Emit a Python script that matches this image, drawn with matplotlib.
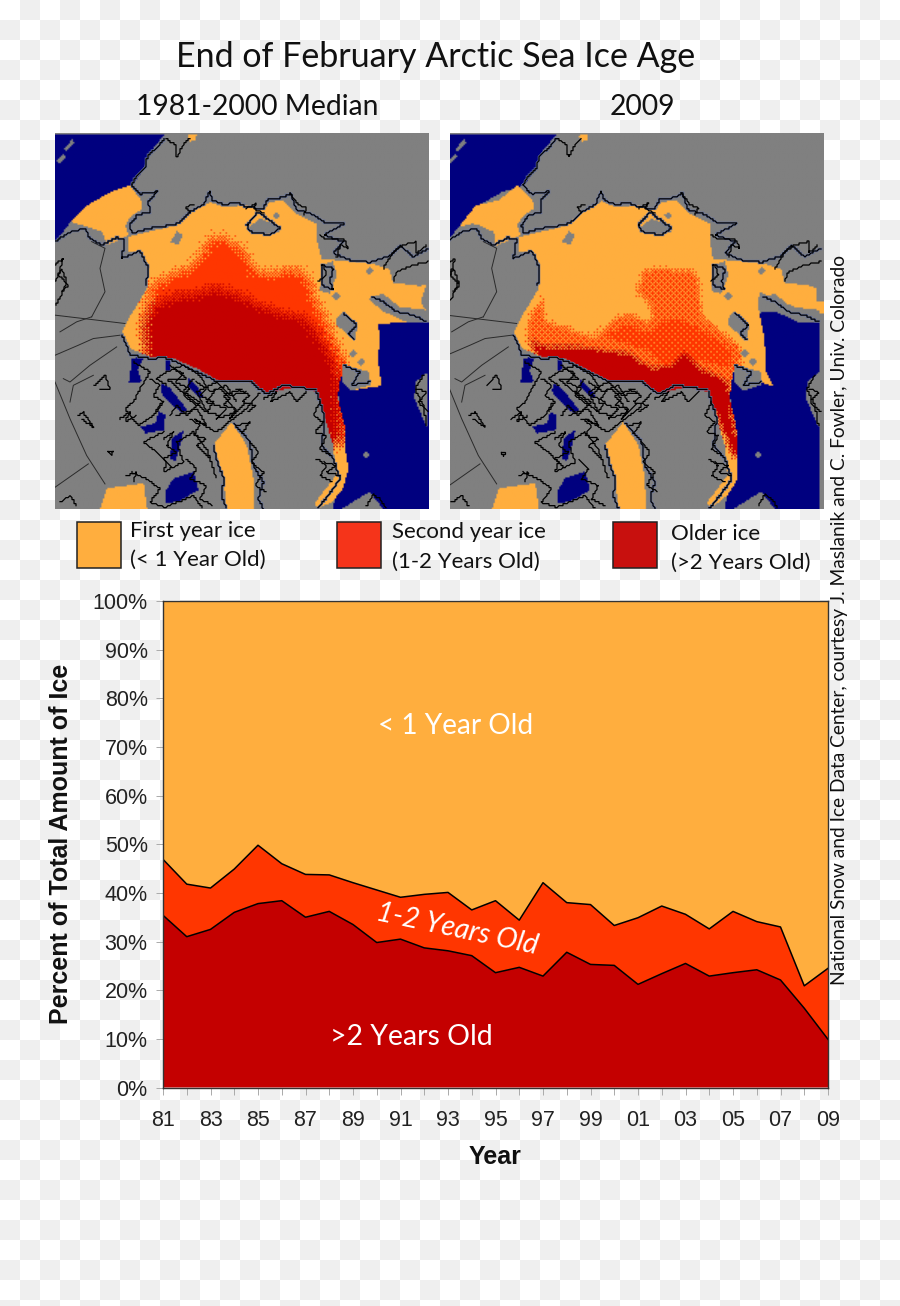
import numpy as np
import matplotlib
matplotlib.use('Agg')
import matplotlib.pyplot as plt
from matplotlib.patches import Rectangle
from matplotlib.path import Path

plt.rcParams['font.family'] = ['Lato', 'DejaVu Sans']

# Dados do grafico
years = list(range(1981, 2010))
tick_labels = ['81', '83', '85', '87', '89', '91', '93', '95', '97', '99', '01', '03', '05', '07', '09']
older = [35.4, 31.0, 32.5, 36.0, 37.8, 38.4, 35.0, 36.2, 33.5, 29.8, 30.5, 28.7, 28.1, 27.1, 23.6,
         24.7, 22.9, 27.8, 25.3, 25.1, 21.2, 23.4, 25.5, 22.9, 23.6, 24.2, 22.1, 16.3, 9.9]
upper = [46.9, 41.8, 41.0, 44.9, 49.8, 46.0, 43.8, 43.7, 42.1, 40.6, 39.1, 39.7, 40.1, 36.5, 38.4,
         34.4, 42.1, 38.0, 37.6, 33.3, 34.9, 37.3, 35.6, 32.6, 36.2, 34.1, 33.0, 20.9, 24.5]

ORANGE = '#ffae3e'
RED = '#ff3600'
DARK = '#c40000'
NAVY = '#00007f'
GRAY = '#808080'

# Contornos dos mapas (coordenadas do mapa)
navy_top = [(15, 25), (345, 25), (300, 80), (280, 130), (245, 180), (180, 200), (110, 240), (60, 290), (15, 350)]
navy_right = [(960, 560), (1137, 560), (1137, 1150), (850, 1150), (885, 960), (865, 800), (880, 700)]
navy_inlets = [
    [(245, 700), (280, 695), (262, 735), (275, 770), (235, 775)],
    [(345, 700), (362, 702), (358, 735), (345, 735)],
    [(335, 775), (360, 790), (412, 855), (395, 865), (350, 825), (330, 800)],
    [(415, 760), (445, 790), (462, 815), (450, 820), (415, 785)],
    [(270, 905), (315, 895), (325, 860), (345, 870), (340, 915), (285, 925)],
    [(365, 940), (400, 915), (395, 945), (375, 1010), (360, 1000)],
    [(345, 1100), (370, 1060), (430, 1040), (445, 1095), (385, 1130), (345, 1135)],
]
ice_1 = [(232, 335), (300, 318), (370, 302), (420, 262), (480, 230), (520, 245), (590, 240), (640, 255), (660, 230),
         (700, 225), (740, 265), (800, 295), (800, 340), (815, 400), (860, 405), (960, 412), (1020, 432), (1030, 472),
         (1110, 482), (1130, 480), (1115, 530), (1137, 570), (1137, 592), (985, 595), (992, 640), (985, 700),
         (997, 782), (900, 797), (880, 742), (868, 780), (865, 820), (885, 900), (885, 960), (897, 1030), (880, 1090),
         (850, 1130), (805, 1150), (795, 1135), (860, 1050), (850, 960), (820, 860), (800, 800), (740, 785),
         (650, 805), (600, 770), (510, 770), (440, 730), (370, 700), (300, 695), (240, 670), (215, 620), (235, 580),
         (290, 490), (295, 420), (270, 378), (232, 380)]
ice_2 = [(222, 335), (300, 316), (360, 302), (410, 262), (470, 228), (510, 245), (580, 240), (630, 255), (650, 230),
         (695, 225), (735, 265), (795, 295), (795, 340), (805, 400), (850, 405), (950, 412), (1010, 432), (1020, 472),
         (1100, 482), (1115, 490), (1115, 530), (1137, 530), (1137, 565), (1050, 545), (945, 500), (940, 540),
         (960, 640), (965, 740), (988, 785), (960, 775), (880, 730), (865, 740), (855, 820), (875, 900), (880, 1010),
         (880, 1060), (850, 1110), (800, 1150), (785, 1135), (850, 1050), (840, 960), (810, 860), (790, 800),
         (730, 785), (640, 805), (590, 770), (500, 770), (430, 735), (360, 700), (290, 695), (230, 670), (205, 620),
         (225, 580), (280, 490), (285, 420), (260, 378), (222, 380)]
bering_1 = [(60, 290), (110, 240), (180, 200), (240, 180), (272, 225), (275, 250), (240, 275), (225, 300), (235, 330),
            (170, 360), (155, 320), (110, 305), (95, 300)]
bering_2 = [(40, 305), (90, 240), (160, 225), (215, 180), (262, 225), (265, 250), (230, 275), (215, 300), (225, 330),
            (150, 362), (145, 320), (100, 300), (80, 295)]
baffin = [(490, 960), (545, 890), (590, 960), (610, 1060), (612, 1150), (530, 1150), (520, 1060)]
hudson = [(150, 1150), (170, 1090), (280, 1075), (290, 1150)]
top_ice = [(410, 30), (440, 25), (435, 45), (420, 48)]
islands = [
    [(590, 310), (630, 280), (680, 298), (690, 320), (650, 328), (600, 322)],
    [(360, 350), (380, 318), (398, 330), (385, 358)],
    [(955, 520), (1000, 505), (1050, 545), (1137, 555), (1137, 590), (1070, 590), (1000, 558)],
    [(815, 420), (850, 408), (862, 450), (840, 505), (812, 498)],
    [(880, 720), (960, 740), (962, 780), (905, 797), (878, 770)],
    [(860, 580), (880, 558), (925, 600), (915, 645), (890, 625), (862, 600)],
    [(948, 437), (960, 425), (973, 437), (960, 449)],
    [(848, 513), (860, 501), (873, 513), (860, 525)],
    [(898, 685), (910, 673), (923, 685), (910, 697)],
    [(923, 710), (935, 698), (948, 710), (935, 722)],
    [(668, 270), (680, 260), (691, 270), (680, 282)],
    [(940, 990), (951, 979), (963, 990), (951, 1001)],
    [(1137, 740), (1100, 770), (1095, 820), (1130, 900), (1137, 905)],
    [(880, 1150), (960, 1100), (1000, 1150)],
    [(18, 105), (38, 85), (45, 95), (25, 115)],
    [(40, 70), (65, 42), (72, 52), (45, 80)],
]
older_1 = [(280, 610), (305, 540), (390, 505), (450, 505), (480, 485), (560, 505), (620, 535), (700, 565), (760, 575),
           (800, 620), (840, 685), (862, 740), (862, 790), (862, 860), (877, 960), (850, 950), (800, 810), (790, 800),
           (650, 830), (500, 790), (300, 720)]
second_1 = [(278, 590), (310, 480), (360, 450), (420, 430), (450, 390), (490, 335), (540, 345), (590, 390), (610, 430),
            (660, 450), (720, 430), (770, 450), (800, 530), (830, 590), (860, 660), (888, 710), (870, 760), (865, 830),
            (880, 900), (880, 965), (850, 950), (800, 810), (790, 800), (650, 830), (500, 790), (300, 720), (275, 620)]
dither_2 = [(590, 435), (640, 430), (750, 435), (765, 480), (770, 570), (830, 620), (885, 660), (900, 690), (870, 740),
            (855, 790), (865, 860), (880, 950), (885, 1015), (860, 990), (800, 810), (720, 810), (640, 830),
            (500, 800), (290, 720), (245, 650), (250, 580), (290, 520), (300, 590),
            (370, 610), (450, 640), (480, 630), (490, 590), (550, 565), (610, 590), (625, 570), (600, 520), (570, 495),
            (590, 470)]
second_2 = [(490, 610), (550, 575), (600, 610), (680, 560), (760, 590), (830, 640), (880, 675), (860, 740), (760, 720),
            (650, 735), (610, 690), (480, 650), (300, 640), (265, 620), (330, 610), (440, 640)]
older_2 = [(250, 640), (290, 662), (400, 665), (550, 685), (620, 730), (680, 720), (720, 680), (770, 730), (850, 770),
           (860, 870), (880, 960), (870, 1005), (830, 900), (800, 830), (720, 810), (640, 830), (500, 800), (290, 720)]
# costas junto ao gelo (com franja azulada)
coasts_ice = [
    [(245, 180), (262, 150), (285, 130), (292, 95), (320, 70), (345, 40)],
    [(245, 180), (270, 208), (322, 200), (295, 230), (300, 262), (262, 270), (240, 300), (245, 325), (300, 310),
     (370, 300), (392, 290), (420, 262), (462, 238), (478, 200), (490, 228), (525, 240), (560, 232), (590, 248),
     (640, 250), (655, 222), (700, 218), (722, 205), (740, 255), (780, 265), (825, 292), (885, 296), (820, 330),
     (880, 350), (850, 385), (900, 405), (960, 412), (1020, 392), (1050, 362), (1090, 395), (1137, 370)],
    [(15, 350), (60, 322), (105, 310), (120, 340), (155, 360), (200, 338), (225, 345), (215, 400), (270, 378), (295, 430), (288, 480)],
    [(215, 630), (230, 660), (240, 688), (300, 700), (345, 698), (375, 708), (430, 735), (500, 768), (600, 768),
     (650, 807), (700, 780), (740, 785), (800, 795)],
    [(800, 800), (825, 880), (815, 960), (850, 1000), (870, 1060), (835, 1110), (800, 1150)],
    [(550, 892), (600, 950), (610, 1020), (640, 1070), (625, 1120), (640, 1150)],
    [(490, 962), (505, 1020), (522, 1060), (515, 1110), (530, 1150)],
    [(590, 300), (625, 262), (650, 280), (690, 310), (660, 330), (600, 320), (590, 300)],
    [(815, 420), (850, 430), (840, 470), (850, 495), (815, 480), (815, 420)],
    [(965, 515), (1000, 530), (1040, 560), (1090, 570), (1130, 590)],
    [(880, 565), (920, 600), (895, 625), (915, 645)],
    [(880, 720), (930, 740), (905, 780), (960, 770)],
]
# costas e ilhas no interior
coasts_land = [
    [(345, 40), (375, 60), (380, 100), (400, 60), (420, 40)],
    [(1030, 470), (1040, 440), (1090, 420), (1137, 410)],
    [(250, 710), (300, 740), (270, 790), (250, 830), (225, 850), (265, 900), (310, 870), (335, 830)],
    [(360, 720), (410, 760), (350, 760), (410, 810), (470, 860), (440, 800), (500, 770), (540, 810), (590, 800)],
    [(380, 870), (440, 850), (470, 900), (430, 880), (500, 920), (550, 880), (590, 850), (630, 800)],
    [(350, 780), (320, 760), (350, 740), (400, 720), (450, 750), (480, 800), (530, 780), (560, 830)],
    [(340, 920), (280, 950), (320, 980), (350, 1010), (340, 1040), (400, 1010), (380, 950), (430, 920), (470, 970), (500, 1060)],
    [(245, 1040), (290, 1060), (330, 1090), (300, 1130), (345, 1145), (430, 1110), (460, 1150)],
    [(135, 780), (165, 750), (180, 790), (150, 790)],
    [(85, 870), (100, 860), (130, 905), (95, 880)],
    [(1120, 750), (1095, 790), (1120, 840), (1130, 900)],
    [(15, 470), (35, 430), (50, 470), (30, 520), (15, 540)],
    [(950, 1140), (970, 1105), (990, 1120), (1010, 1150)],
    [(500, 790), (470, 830), (530, 850), (500, 880), (560, 860), (520, 810), (580, 790)],
    [(430, 760), (400, 800), (450, 830), (410, 870), (380, 840), (360, 870)],
    [(800, 1000), (830, 1020), (810, 1050), (850, 1070)],
    [(560, 900), (600, 890), (575, 925)],
    [(175, 980), (190, 975), (185, 990), (175, 980)],
    [(810, 330), (830, 345), (880, 340), (895, 370), (870, 360), (860, 400)],
    [(1000, 430), (1030, 380), (1060, 360), (1100, 350), (1100, 385), (1130, 360)],
    [(720, 205), (745, 240), (770, 250), (760, 270)],
    [(590, 250), (620, 235), (610, 250), (640, 265)],
    [(420, 262), (405, 245), (435, 240)],
    [(820, 420), (830, 450), (805, 470)],
    [(370, 730), (400, 745), (375, 770), (420, 790), (400, 810), (440, 840)],
    [(440, 770), (470, 790), (450, 810), (490, 830), (470, 860), (510, 870)],
    [(510, 790), (540, 820), (520, 840), (560, 850), (540, 880), (590, 830)],
    [(560, 790), (600, 810), (575, 830), (620, 840), (590, 860)],
    [(640, 820), (680, 800), (660, 830), (720, 800), (740, 830), (770, 800)],
    [(300, 760), (330, 780), (310, 810), (340, 830), (320, 860)],
    [(420, 880), (450, 900), (430, 930), (470, 940), (440, 960), (480, 1000)],
    [(340, 940), (370, 920), (350, 960), (380, 980), (340, 1000), (370, 1030)],
    [(410, 1000), (440, 1030), (420, 1060), (470, 1080), (450, 1120), (490, 1140)],
    [(810, 830), (790, 870), (820, 890), (795, 920), (830, 930), (810, 970), (840, 990)],
    [(820, 1010), (860, 1020), (830, 1040), (870, 1050)],
    [(600, 950), (625, 980), (605, 1010), (640, 1040), (615, 1080), (650, 1100)],
    [(210, 880), (240, 860), (225, 890), (260, 870)],
    [(15, 420), (40, 400), (25, 450), (55, 480), (35, 500)],
    [(1100, 790), (1130, 800), (1105, 830), (1137, 860)],
    [(230, 1050), (260, 1040), (250, 1070)],
    [(30, 1130), (60, 1110), (80, 1140)],
]
borders = [
    [(15, 570), (225, 595)],
    [(15, 770), (60, 880), (110, 990), (165, 1075)],
    [(15, 1085), (115, 1015)],
    [(125, 575), (165, 500), (150, 430), (165, 370), (125, 350)],
    [(15, 690), (85, 660), (130, 640), (210, 630)],
    [(40, 760), (60, 770), (120, 720), (200, 665)],
    [(60, 830), (70, 780), (130, 750)],
    [(30, 620), (80, 590), (125, 575)],
]

# grade dos mapas
NCELL = 250
gx = np.linspace(15, 1137, NCELL)
gy = np.linspace(25, 1150, NCELL)
mx, my = np.meshgrid(gx, gy)
grid_pts = np.column_stack([mx.ravel(), my.ravel()])
bayer = np.array([[0, 32, 8, 40, 2, 34, 10, 42], [48, 16, 56, 24, 50, 18, 58, 26],
                  [12, 44, 4, 36, 14, 46, 6, 38], [60, 28, 52, 20, 62, 30, 54, 22],
                  [3, 35, 11, 43, 1, 33, 9, 41], [51, 19, 59, 27, 49, 17, 57, 25],
                  [15, 47, 7, 39, 13, 45, 5, 37], [63, 31, 55, 23, 61, 29, 53, 21]]) / 64 + 1 / 128
threshold = np.tile(bayer, (NCELL // 8 + 1, NCELL // 8 + 1))[:NCELL, :NCELL]


def mask(poly, dx=0):
    return Path(np.array(poly) + np.array([dx, 0])).contains_points(grid_pts).reshape(NCELL, NCELL)


def blur(a, r):
    kernel = np.ones(2 * r + 1) / (2 * r + 1)
    a = np.apply_along_axis(lambda v: np.convolve(v, kernel, mode='same'), 0, a.astype(float))
    return np.apply_along_axis(lambda v: np.convolve(v, kernel, mode='same'), 1, a)


def rgb(c):
    return np.array(matplotlib.colors.to_rgb(c))


def stairs(c, dx=0):
    # linha em degraus, como as costas do mapa original
    arr = np.array(c, dtype=float)
    seg = np.r_[0, np.cumsum(np.hypot(*np.diff(arr, axis=0).T))]
    t = np.arange(0, seg[-1], 3)
    return np.round((np.interp(t, seg, arr[:, 0]) + dx) / 6) * 6, np.round(np.interp(t, seg, arr[:, 1]) / 6) * 6


def draw_map(left, ice, bering, layers, dx):
    ax = fig.add_axes([left / 900, 1 - 509 / 1306, 374 / 900, 376 / 1306])
    img = np.ones((NCELL, NCELL, 3)) * rgb(GRAY)
    for p in [navy_right, navy_top] + navy_inlets:
        img[mask(p, dx)] = rgb(NAVY)
    ice_mask = mask(ice) | mask(bering) | mask(baffin, dx) | mask(hudson, dx) | mask(top_ice, dx)
    for p in islands:
        ice_mask &= ~mask(p, dx)
    img[ice_mask] = rgb(ORANGE)
    for p in islands:
        img[mask(p, dx)] = rgb(GRAY)
    for poly, color, strength, r in layers:
        m = mask(poly) & ice_mask
        frac = blur(m, r) / np.maximum(blur(ice_mask, r), 1e-3) * strength
        img[ice_mask & (frac > threshold)] = rgb(color)
    ax.imshow(img, extent=(15, 1137, 1150, 25), interpolation='bilinear', aspect='auto')
    for c in coasts_ice:
        ax.plot(*stairs(c, dx), color='#68749c', lw=1.8, solid_joinstyle='miter')
    for c in borders:
        arr = np.array(c)
        ax.plot(arr[:, 0] + dx, arr[:, 1], color='#2a2a2a', lw=0.7)
    for c in coasts_ice + coasts_land:
        ax.plot(*stairs(c, dx), color='black', lw=0.9, solid_joinstyle='miter')
    ax.set_xlim(15, 1137)
    ax.set_ylim(1150, 25)
    ax.axis('off')


def put(px, py, t, **kw):
    kw.setdefault('ha', 'center')
    kw.setdefault('va', 'center')
    kw.setdefault('color', '#111111')
    fig.text(px / 900, 1 - py / 1306, t, **kw)


fig = plt.figure(figsize=(9, 13.06), dpi=100, facecolor='white')

# fundo quadriculado
bg = fig.add_axes([0, 0, 1, 1])
rows, cols = np.indices((66, 46))
bg.imshow((rows + cols) % 2, cmap=matplotlib.colors.ListedColormap(['white', '#efefef']),
          extent=(0, 920, 1320, 0), interpolation='nearest', aspect='auto')
bg.set_xlim(0, 900)
bg.set_ylim(1306, 0)
bg.axis('off')

draw_map(55, ice_1, bering_1, [(second_1, RED, 1.0, 5), (older_1, DARK, 1.0, 5)], 0)
draw_map(450, ice_2, bering_2, [(dither_2, RED, 0.62, 2), (second_2, RED, 0.88, 4), (older_2, DARK, 1.0, 2)], -10)

# Grafico de areas
ax = fig.add_axes([163 / 900, 1 - 1087.5 / 1306, 665 / 900, 486.5 / 1306])
second = [u - o for u, o in zip(upper, older)]
first = [100 - u for u in upper]
ax.stackplot(years, older, second, first, colors=[DARK, RED, ORANGE], lw=0)
ax.plot(years, older, color='black', lw=1.1)
ax.plot(years, upper, color='black', lw=1.1)
ax.set_xlim(1981, 2009)
ax.set_ylim(0, 100)
ax.set_yticks(range(0, 101, 10))
ax.set_yticklabels([f'{v}%' for v in range(0, 101, 10)], family='Liberation Sans', fontsize=15.5, color='#222222')
ax.set_xticks(years, minor=True)
ax.set_xticks(years[::2])
ax.set_xticklabels(tick_labels, family='Liberation Sans', fontsize=15.5, color='#222222')
ax.tick_params(axis='y', which='both', length=5, width=0.7, color='#aaaaaa', pad=6)
ax.tick_params(axis='x', which='both', length=5, width=0.7, color='#aaaaaa', pad=11)
for s in ax.spines.values():
    s.set_color('#333333')
    s.set_linewidth(1.0)

# Textos
put(436, 57, 'End of February Arctic Sea Ice Age', fontsize=24.5)
put(257, 107, '1981-2000 Median', fontsize=20.3)
put(642, 107, '2009', fontsize=20.3)

swatches = [(77, 522, 44, 46, '#ffae3e'), (337, 522, 44, 46, '#f5341a'), (613, 522, 44, 46, '#c8100e')]
for sx, sy, sw, sh, col in swatches:
    fig.add_artist(Rectangle((sx / 900, 1 - (sy + sh) / 1306), sw / 900, sh / 1306, fc=col, ec='#222222', lw=1.1,
                             transform=fig.transFigure))
legend_texts = [(130, 531, 'First year ice'), (130, 560, '(< 1 Year Old)'), (392, 532, 'Second year ice'),
                (392, 562, '(1-2 Years Old)'), (671, 534, 'Older ice'), (671, 563, '(>2 Years Old)')]
for lx, ly, t in legend_texts:
    put(lx, ly, t, fontsize=16, ha='left')

put(456, 726, '< 1 Year Old', fontsize=20.2, color='white')
put(411, 1037, '>2 Years Old', fontsize=20.4, color='white')
put(457, 929, '1-2 Years Old', fontsize=20.4, color='white', rotation=-12, style='italic')

put(495, 1157, 'Year', fontsize=18, fontweight='bold', family='Liberation Sans')
put(61, 844, 'Percent of Total Amount of Ice', fontsize=18, fontweight='bold', family='Liberation Sans', rotation=90)
put(839, 620, 'National Snow and Ice Data Center, courtesy J. Maslanik and C. Fowler, Univ. Colorado', fontsize=13.8,
    rotation=90)

fig.savefig('out.png', dpi=100)
